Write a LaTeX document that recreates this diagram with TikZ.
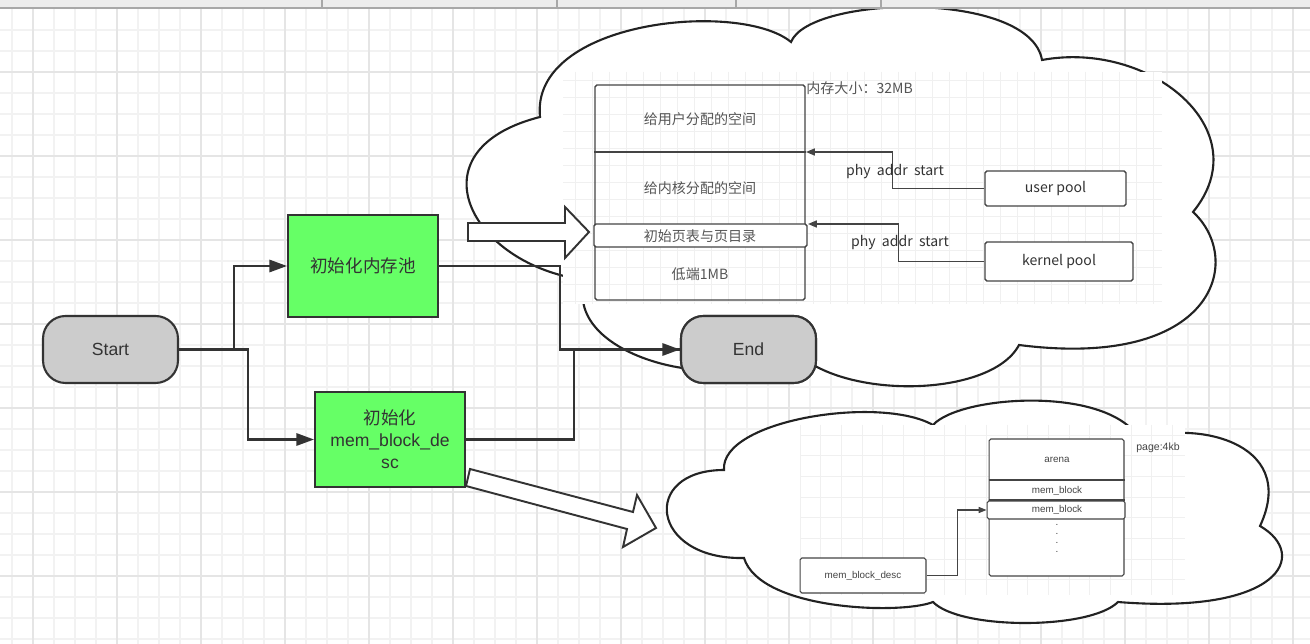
\documentclass[tikz,border=0pt]{standalone}
\usepackage{fontspec}
\setmainfont{Liberation Sans}
\newfontfamily\cjk{Noto Sans CJK SC}
\usetikzlibrary{arrows.meta}
\definecolor{gridminor}{HTML}{F2F2F2}
\definecolor{gridmajor}{HTML}{E5E5E5}
\definecolor{pastegrid}{HTML}{F0F0F0}
\definecolor{barfill}{HTML}{EDEDED}
\definecolor{barline}{HTML}{A8A8A8}
\definecolor{ink}{HTML}{333333}
\definecolor{cloudink}{HTML}{222222}
\definecolor{boxgreen}{HTML}{66FF66}
\definecolor{termgrey}{HTML}{CCCCCC}
\definecolor{memink}{HTML}{444444}
\definecolor{memtext}{HTML}{555555}
\tikzset{
  gmin/.style={draw=gridminor, line width=0.6pt},
  gmaj/.style={draw=gridmajor, line width=0.8pt},
  pgrid/.style={draw=pastegrid, line width=0.5pt},
  cloudline/.style={draw=cloudink, line width=1.2pt, fill=white},
  flow/.style={draw=ink, line width=1.2pt, -{Triangle[length=10pt,width=7pt]}},
  flowplain/.style={draw=ink, line width=1.2pt},
  term/.style={draw=ink, line width=1.2pt, fill=termgrey, rounded corners=0.45cm,
    minimum width=2.7cm, minimum height=1.34cm, inner sep=0pt,
    font=\fontsize{10}{12.5}\selectfont, text=ink},
  proc/.style={draw=ink, line width=1.2pt, fill=boxgreen, inner sep=0pt,
    minimum width=3cm, align=center, font=\fontsize{10}{12.5}\selectfont, text=ink},
  blockarrow/.style={draw=ink, line width=1.1pt, fill=white, line join=miter},
  memline/.style={draw=memink, line width=0.8pt},
  memarrow/.style={draw=memink, line width=0.8pt, -{Triangle[length=5pt,width=4pt]}},
  membox/.style={draw=memink, line width=0.8pt, fill=white, rounded corners=1.1pt, inner sep=0pt},
  memtxt/.style={font=\cjk\fontsize{8}{10}\selectfont, text=memtext, inner sep=0pt},
  memlbl/.style={font=\cjk\fontsize{8}{10}\selectfont, text=ink, inner sep=0pt},
  smallbox/.style={draw=memink, line width=0.6pt, fill=white, rounded corners=1pt, inner sep=0pt},
  smalltxt/.style={font=\fontsize{5.6}{7}\selectfont, text=memink, inner sep=0pt},
}
\begin{document}
\begin{tikzpicture}[x=0.02cm, y=-0.02cm]
\useasboundingbox (0,0) rectangle (1310,644);
\fill[white] (0,0) rectangle (1310,644);
% background grid
\foreach \x in {12,33,...,1310} \draw[gmin] (\x,8) -- (\x,644);
\foreach \y in {30,51,...,644} \draw[gmin] (0,\y) -- (1310,\y);
\foreach \x in {33,117,...,1310} \draw[gmaj] (\x,8) -- (\x,644);
\foreach \y in {72,156,...,644} \draw[gmaj] (0,\y) -- (1310,\y);

% clouds
\path[cloudline] (540,117) .. controls (530,20) and (740,0) .. (791,42)
  .. controls (810,-5) and (1030,-10) .. (1042,60)
  .. controls (1150,40) and (1260,130) .. (1193,212)
  .. controls (1245,260) and (1215,370) .. (1019,345)
  .. controls (990,400) and (830,400) .. (790,345)
  .. controls (740,400) and (560,360) .. (585,280)
  .. controls (470,265) and (410,150) .. (540,117) -- cycle;
\path[cloudline] (724,470) .. controls (720,420) and (880,395) .. (933,425)
  .. controls (960,395) and (1110,385) .. (1140,440)
  .. controls (1190,420) and (1300,440) .. (1260,526)
  .. controls (1310,555) and (1280,615) .. (1118,602)
  .. controls (1090,630) and (960,630) .. (933,602)
  .. controls (900,615) and (760,610) .. (744,558)
  .. controls (650,560) and (640,470) .. (724,470) -- cycle;

% pasted picture: memory pool
\fill[white] (563,72) rectangle (1162,304);
\begin{scope}
  \clip (563,72) rectangle (1162,304);
  \foreach \x in {575.7,592.7,...,1162} \draw[pgrid] (\x,72) -- (\x,304);
  \foreach \y in {80,97,...,304} \draw[pgrid] (563,\y) -- (1162,\y);
\end{scope}
\node[draw=memink, line width=0.8pt, rounded corners=1.1pt, inner sep=0pt,
  minimum width=4.2cm, minimum height=4.3cm] (memrect) at (700,192.5) {};
\draw[memline] (memrect.west |- 0,152) -- (memrect.east |- 0,152);
\node[membox, minimum width=4.26cm, minimum height=0.46cm] (pgtab) at (700.5,235.5) {};
\node[memtxt] (tuser) at (700,119) {给用户分配的空间};
\node[memtxt] (tkern) at (700,188) {给内核分配的空间};
\node[memtxt] (tpg) at (700,236) {初始页表与页目录};
\node[memtxt] (tlow) at (700,274) {低端1MB};
\node[memtxt, anchor=west] (tsize) at (806,88) {内存大小：32MB};
\node[membox, minimum width=2.82cm, minimum height=0.7cm] (upool) at (1055.5,188.5) {};
\node[memlbl] at (upool) {user pool};
\node[membox, minimum width=2.96cm, minimum height=0.78cm] (kpool) at (1059,261.5) {};
\node[memlbl] at (kpool) {kernel pool};
\coordinate (usplit) at (806,152);
\coordinate (ksplit) at (808,224);
\draw[memarrow] (upool.west) -- ++(-92,0) |- (usplit);
\draw[memarrow] (kpool.west) -- ++(-86,0) |- (ksplit);
\node[memlbl] (lab1) at (895,172) {phy\ \ addr\ \ start};
\node[memlbl] (lab2) at (900,243) {phy\ \ addr\ \ start};

% pasted picture: arena
\fill[white] (800,425) rectangle (1185,595);
\begin{scope}
  \clip (800,425) rectangle (1185,595);
  \foreach \x in {800,820.7,...,1185} \draw[pgrid] (\x,425) -- (\x,595);
  \foreach \y in {435,455.7,...,595} \draw[pgrid] (800,\y) -- (1185,\y);
\end{scope}
\node[smallbox, minimum width=2.7cm, minimum height=2.74cm] (stack) at (1056.5,507.5) {};
\draw[draw=memink, line width=0.6pt] (stack.west |- 0,480) -- (stack.east |- 0,480);
\draw[draw=memink, line width=0.6pt] (stack.west |- 0,500) -- (stack.east |- 0,500);
\node[smallbox, minimum width=2.76cm, minimum height=0.36cm] (mb2) at (1056,510) {};
\node[smalltxt] (tarena) at (1057,460) {arena};
\node[smalltxt] (tmb1) at (1057,491) {mem\_block};
\node[smalltxt] (tmb2) at (1057,510) {mem\_block};
\foreach \y in {527,536,545,554} \node[smalltxt] at (1057,\y-2) {.};
\node[smalltxt, font=\fontsize{6}{7}\selectfont] (tpage) at (1158,448) {page:4kb};
\node[smallbox, minimum width=2.52cm, minimum height=0.7cm] (descbox) at (863,575.5) {};
\node[smalltxt] at (descbox) {mem\_block\_desc};
\draw[draw=memink, line width=0.6pt, -{Triangle[length=4.5pt,width=3.5pt]}] (descbox.east) -- ++(31,0) |- (mb2.west);

% flowchart
\node[term] (start) at (110.5,349.5) {Start};
\node[proc, minimum height=2.04cm, font=\cjk\fontsize{10}{12.5}\selectfont] (pool) at (363,266) {初始化内存池};
\node[proc, minimum height=1.9cm] (desc) at (390,439.5) {{\cjk 初始化}\\mem\_block\_de\\sc};
\node[term] (end) at (748.5,349.5) {End};
\draw[flow] (start.east) -- ++(55,0) |- (pool.west);
\draw[flow] (start.east) -- ++(69,0) |- (desc.west);
\draw[flowplain] (desc.east) -- ++(108,0) |- (end.west);
\draw[flow] (pool.east) -- ++(121,0) |- (end.west);
\node[term] at (end) {End};

% block arrows
\path[blockarrow] (468,223) -- (565,223) -- (565,207) -- (589,232) -- (565,258) -- (565,241) -- (468,241) -- cycle;
\path[blockarrow] (470,469) -- (633,512) -- (637,495) -- (656,528) -- (623,547) -- (627,529) -- (466,486) -- cycle;

% top bar
\fill[barfill] (0,0) rectangle (1310,8);
\draw[barline, line width=0.8pt] (0,8) -- (1310,8);
\foreach \x in {322,557,736,881} \draw[barline, line width=0.6pt] (\x,0) -- (\x,8);
\end{tikzpicture}
\end{document}
